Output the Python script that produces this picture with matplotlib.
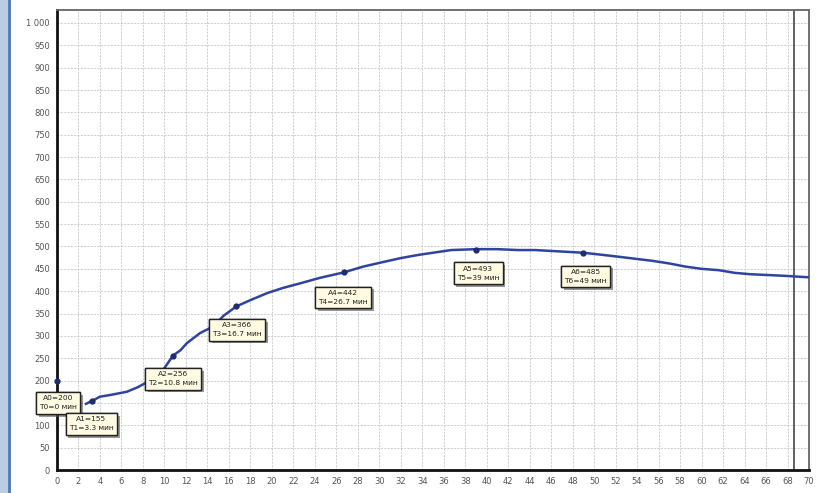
import matplotlib
matplotlib.use("Agg")
import matplotlib.pyplot as plt
from matplotlib.patches import Rectangle
from matplotlib.lines import Line2D
import matplotlib.patheffects as pe

# Measured curve (time in minutes, amplitude)
curve_t = [2.7, 3.3, 4.0, 5.0, 6.5, 7.5, 8.5, 9.3, 10.0, 10.8, 11.5, 12.1, 13.3,
           14.6, 15.5, 16.7, 18.0, 19.6, 21.0, 22.7, 24.5, 26.7, 28.5, 30.5,
           32.0, 33.6, 35.0, 36.7, 39.0, 41.0, 42.9, 44.5, 46.0, 49.0, 50.5,
           52.3, 54.0, 55.4, 57.0, 58.5, 60.0, 61.6, 63.1, 64.5, 66.3, 68.0, 70.0]
curve_a = [148, 155, 164, 168, 175, 185, 198, 209, 228, 256, 268, 284, 306,
           322, 345, 366, 380, 396, 407, 418, 430, 442, 455, 466,
           474, 481, 486, 492, 494, 494, 492, 492, 490, 486, 482,
           477, 472, 468, 462, 455, 450, 447, 441, 438, 436, 434, 431]

# Marked points
point_names = ["0", "1", "2", "3", "4", "5", "6"]
point_t = [0, 3.3, 10.8, 16.7, 26.7, 39, 49]
point_a = [200, 155, 256, 366, 442, 493, 485]
point_t_text = ["0", "3.3", "10.8", "16.7", "26.7", "39", "49"]

# Label box centres (time, amplitude)
box_t = [0.1, 3.2, 10.8, 16.75, 26.65, 39.2, 49.2]
box_a = [150, 103, 204, 314, 386, 440, 433]

cursor_t = 68.6

x_ticks = list(range(0, 71, 2))
y_ticks = list(range(0, 1001, 50))
# the 150 label sits under the A0 box
y_labels = ["1 000" if v == 1000 else ("" if v == 150 else str(v)) for v in y_ticks]

fig = plt.figure(figsize=(8.2, 4.93), dpi=100)
fig.patch.set_facecolor("white")

# left window frame
fig.add_artist(Rectangle((0, 0), 8 / 820, 1, transform=fig.transFigure,
                         facecolor="#b9cde5", edgecolor="none"))
fig.add_artist(Line2D([9.5 / 820, 9.5 / 820], [0, 1], transform=fig.transFigure,
                      color="#4a78b0", lw=2))

ax = fig.add_axes([57 / 820, 23 / 493, 752 / 820, 460 / 493])
ax.set_xlim(0, 70)
ax.set_ylim(0, 1029)
ax.set_xticks(x_ticks)
ax.set_yticks(y_ticks)
ax.set_yticklabels(y_labels)
ax.tick_params(axis="both", length=0, labelsize=6, labelcolor="#555555", pad=5)
ax.grid(True, color="#c6c6c6", lw=0.6, linestyle=(0, (2.5, 1.5)))

for side in ("left", "bottom"):
    ax.spines[side].set_color("#111111")
    ax.spines[side].set_linewidth(2)
for side in ("top", "right"):
    ax.spines[side].set_color("#666666")
    ax.spines[side].set_linewidth(1.3)

ax.axvline(cursor_t, color="#555555", lw=1.3)

ax.plot(curve_t, curve_a, color="#2f43a0", lw=1.8, zorder=3)
ax.plot(point_t, point_a, "o", color="#1f2d6e", ms=3.5, zorder=4, clip_on=False)

for n, t, a, tt, bt, ba in zip(point_names, point_t, point_a, point_t_text, box_t, box_a):
    txt = ax.text(bt, ba, f"A{n}={a}\nT{n}={tt} мин", ha="center", va="center",
                  fontsize=5.4, color="#222222", linespacing=1.6, zorder=6,
                  clip_on=False,
                  bbox=dict(boxstyle="square,pad=0.45", facecolor="#fffbe3",
                            edgecolor="#222222", lw=1))
    txt.get_bbox_patch().set_path_effects(
        [pe.withSimplePatchShadow(offset=(2, -2), shadow_rgbFace="#555555", alpha=0.6),
         pe.Normal()])

fig.savefig("out.png", dpi=100)
